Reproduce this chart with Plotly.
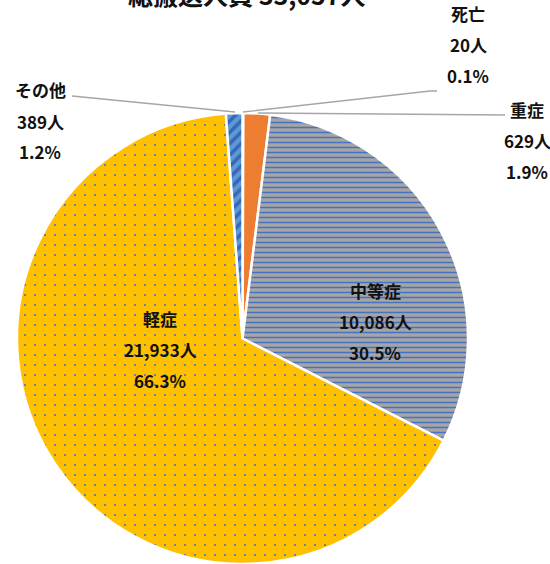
import plotly.graph_objects as go

categories = ["死亡", "重症", "中等症", "軽症", "その他"]
values = [20, 629, 10086, 21933, 389]
percents = ["0.1%", "1.9%", "30.5%", "66.3%", "1.2%"]
title_text = "総搬送人員 33,057人"

colors = ["#4472C4", "#ED7D31", "#A5A5A5", "#FFC000", "#5B9BD5"]
pat_shapes = ["", "", "-", ".", "/"]
pat_fg = ["#4472C4", "#ED7D31", "#4472C4", "#4472C4", "#3A66B8"]
pat_size = [8, 8, 5, 10, 8]
pat_sol = [0.3, 0.3, 0.3, 0.035, 0.45]

W, H = 550, 564


def px(x, y):
    return x / W, 1 - y / H


cx, cy, r = 242.5, 339.5, 226.5
fig = go.Figure()
fig.add_trace(go.Pie(
    labels=categories, values=values, sort=False, direction="clockwise",
    rotation=0, textinfo="none", hoverinfo="label+value+percent",
    marker=dict(colors=colors, line=dict(color="white", width=2.5),
                pattern=dict(shape=pat_shapes, fgcolor=pat_fg, bgcolor=colors,
                             size=pat_size, solidity=pat_sol, fillmode="replace")),
    domain=dict(x=[(cx - r) / W, (cx + r) / W],
                y=[max(0.0, (H - cy - r) / H), (H - cy + r) / H]),
    showlegend=False,
))

# label anchor positions (pixels from top-left): centre x, first line y
label_pos = {
    "死亡": (468, 13),
    "重症": (527, 109),
    "中等症": (375, 290),
    "軽症": (160, 318),
    "その他": (40, 90),
}
line_gap = 31
font = dict(family="Noto Sans CJK JP, Noto Sans", size=17, color="#111111")
anns = []
for cat, v, p in zip(categories, values, percents):
    x0, y0 = label_pos[cat]
    lines = [cat, f"{v:,}人", p]
    for i, t in enumerate(lines):
        ax, ay = px(x0, y0 + i * line_gap)
        anns.append(dict(x=ax, y=ay, xref="paper", yref="paper",
                         text=f"<b>{t}</b>", showarrow=False, font=font,
                         xanchor="center", yanchor="middle"))
tx, ty = px(247, -6)
anns.append(dict(x=tx, y=ty, xref="paper", yref="paper",
                 text=f"<b>{title_text}</b>", showarrow=False,
                 font=dict(family="Noto Sans CJK JP, Noto Sans", size=25, color="#111111"),
                 xanchor="center", yanchor="middle"))

# leader lines (pixel paths)
leaders = [
    [(243, 112), (430, 91), (437, 91)],
    [(258, 113), (505, 115)],
    [(72, 96), (235, 112)],
]
shapes = []
for pts in leaders:
    path = "M " + " L ".join("{},{}".format(*px(x, y)) for x, y in pts)
    shapes.append(dict(type="path", path=path, xref="paper", yref="paper",
                       line=dict(color="#A6A6A6", width=1.3)))

fig.update_layout(width=W, height=H, margin=dict(l=0, r=0, t=0, b=0),
                  paper_bgcolor="white", plot_bgcolor="white",
                  annotations=anns, shapes=shapes)
fig.write_html("out.html", config={"displayModeBar": False},
               post_script="document.body.style.margin='0';")
